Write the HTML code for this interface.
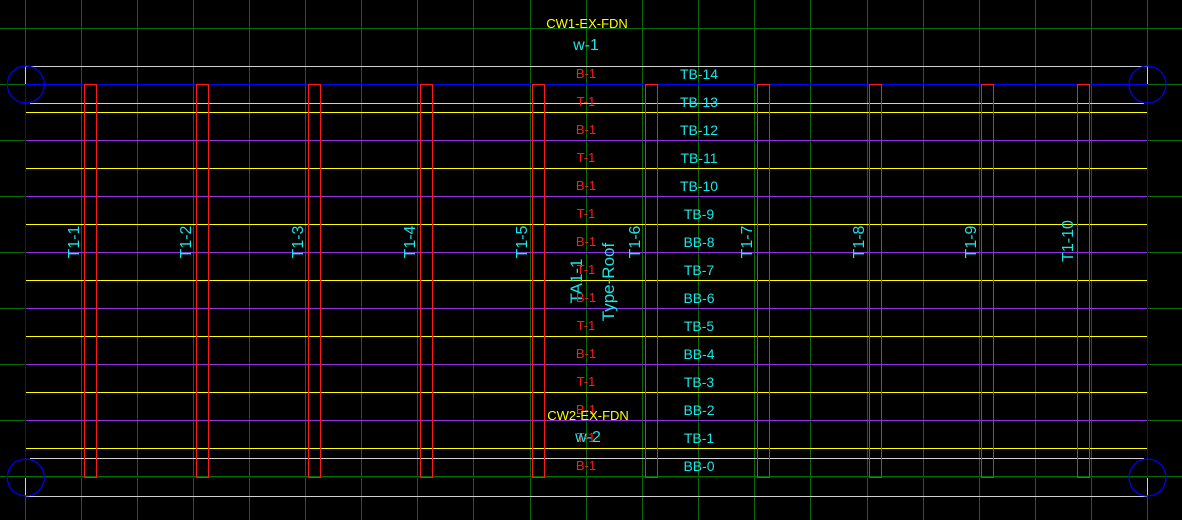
<!DOCTYPE html>
<html><head><meta charset="utf-8"><style>
html,body{margin:0;padding:0;background:#000;}
svg{display:block;}
text{font-family:"Liberation Sans",sans-serif;}
</style></head><body>
<svg width="1182" height="520" viewBox="0 0 1182 520" xmlns="http://www.w3.org/2000/svg">
<rect width="1182" height="520" fill="#000"/>
<g stroke="#0a6a0a" stroke-width="1" shape-rendering="crispEdges">
<line x1="25.5" y1="0" x2="25.5" y2="520"/><line x1="81.5" y1="0" x2="81.5" y2="520"/><line x1="137.5" y1="0" x2="137.5" y2="520"/><line x1="193.5" y1="0" x2="193.5" y2="520"/><line x1="249.5" y1="0" x2="249.5" y2="520"/><line x1="305.5" y1="0" x2="305.5" y2="520"/><line x1="361.5" y1="0" x2="361.5" y2="520"/><line x1="417.5" y1="0" x2="417.5" y2="520"/><line x1="473.5" y1="0" x2="473.5" y2="520"/><line x1="530.5" y1="0" x2="530.5" y2="520"/><line x1="586.5" y1="0" x2="586.5" y2="520"/><line x1="642.5" y1="0" x2="642.5" y2="520"/><line x1="698.5" y1="0" x2="698.5" y2="520"/><line x1="754.5" y1="0" x2="754.5" y2="520"/><line x1="810.5" y1="0" x2="810.5" y2="520"/><line x1="867.5" y1="0" x2="867.5" y2="520"/><line x1="923.5" y1="0" x2="923.5" y2="520"/><line x1="979.5" y1="0" x2="979.5" y2="520"/><line x1="1035.5" y1="0" x2="1035.5" y2="520"/><line x1="1091.5" y1="0" x2="1091.5" y2="520"/><line x1="1147.5" y1="0" x2="1147.5" y2="520"/>
<line x1="0" y1="28.5" x2="1182" y2="28.5"/><line x1="0" y1="84.5" x2="1182" y2="84.5"/><line x1="0" y1="140.5" x2="1182" y2="140.5"/><line x1="0" y1="196.5" x2="1182" y2="196.5"/><line x1="0" y1="252.5" x2="1182" y2="252.5"/><line x1="0" y1="308.5" x2="1182" y2="308.5"/><line x1="0" y1="364.5" x2="1182" y2="364.5"/><line x1="0" y1="420.5" x2="1182" y2="420.5"/><line x1="0" y1="476.5" x2="1182" y2="476.5"/>
</g>
<g stroke="#ffff00" stroke-width="1" shape-rendering="crispEdges">
<line x1="26" y1="112.5" x2="1147" y2="112.5"/><line x1="26" y1="168.5" x2="1147" y2="168.5"/><line x1="26" y1="224.5" x2="1147" y2="224.5"/><line x1="26" y1="280.5" x2="1147" y2="280.5"/><line x1="26" y1="336.5" x2="1147" y2="336.5"/><line x1="26" y1="392.5" x2="1147" y2="392.5"/><line x1="26" y1="448.5" x2="1147" y2="448.5"/>
</g>
<g stroke="#9030e0" stroke-width="1" shape-rendering="crispEdges">
<line x1="26" y1="140.5" x2="1147" y2="140.5"/><line x1="26" y1="196.5" x2="1147" y2="196.5"/><line x1="26" y1="252.5" x2="1147" y2="252.5"/><line x1="26" y1="308.5" x2="1147" y2="308.5"/><line x1="26" y1="364.5" x2="1147" y2="364.5"/><line x1="26" y1="420.5" x2="1147" y2="420.5"/>
</g>
<g stroke="#d0d0d0" stroke-width="1" shape-rendering="crispEdges">
<line x1="26" y1="66.5" x2="1147" y2="66.5"/><line x1="30" y1="103.5" x2="1144" y2="103.5"/>
<line x1="30" y1="458.5" x2="1144" y2="458.5"/><line x1="26" y1="496.5" x2="1147" y2="496.5"/>
<line x1="25.5" y1="66" x2="25.5" y2="84"/><line x1="1147.5" y1="66" x2="1147.5" y2="84"/>
<line x1="25.5" y1="477" x2="25.5" y2="496"/><line x1="1147.5" y1="477" x2="1147.5" y2="496"/>
</g>
<g stroke="#0000ff" stroke-width="1" fill="none" shape-rendering="crispEdges">
<line x1="25" y1="84.5" x2="1148" y2="84.5"/><line x1="25" y1="477.5" x2="1148" y2="477.5"/>
<line x1="25.5" y1="84" x2="25.5" y2="477"/><line x1="1147.5" y1="84" x2="1147.5" y2="477"/>
</g>
<g stroke="#0000ff" stroke-width="1.2" fill="none">
<circle cx="25.8" cy="84.5" r="18.5"/><circle cx="1147.5" cy="84.5" r="18.5"/>
<circle cx="25.8" cy="477.5" r="18.5"/><circle cx="1147.5" cy="477.5" r="18.5"/>
</g>
<g stroke="#ff1a1a" stroke-width="1" fill="none" shape-rendering="crispEdges">
<rect x="84.5" y="84.5" width="12" height="393"/><rect x="196.5" y="84.5" width="12" height="393"/><rect x="308.5" y="84.5" width="12" height="393"/><rect x="420.5" y="84.5" width="12" height="393"/><rect x="532.5" y="84.5" width="12" height="393"/><rect x="645.5" y="84.5" width="12" height="393"/><rect x="757.5" y="84.5" width="12" height="393"/><rect x="869.5" y="84.5" width="12" height="393"/><rect x="981.5" y="84.5" width="12" height="393"/><rect x="1077.5" y="84.5" width="12" height="393"/>
</g>
<g fill="#19e6e6" font-size="16" text-anchor="middle">
<text transform="translate(79,242) rotate(-90)">T1-1</text>
<text transform="translate(191,242) rotate(-90)">T1-2</text>
<text transform="translate(303,242) rotate(-90)">T1-3</text>
<text transform="translate(415,242) rotate(-90)">T1-4</text>
<text transform="translate(527,242) rotate(-90)">T1-5</text>
<text transform="translate(640,242) rotate(-90)">T1-6</text>
<text transform="translate(752,242) rotate(-90)">T1-7</text>
<text transform="translate(864,242) rotate(-90)">T1-8</text>
<text transform="translate(976,242) rotate(-90)">T1-9</text>
<text transform="translate(1073,241) rotate(-90)">T1-10</text>
<text font-size="17" transform="translate(582,281) rotate(-90)">TA1-1</text>
<text font-size="17" transform="translate(614,282) rotate(-90)">Type-Roof</text>
</g>
<g fill="#ff1a1a" font-size="13" text-anchor="middle">
<text x="586" y="78">B-1</text><text x="586" y="106">T-1</text><text x="586" y="134">B-1</text><text x="586" y="162">T-1</text><text x="586" y="190">B-1</text><text x="586" y="218">T-1</text><text x="586" y="246">B-1</text><text x="586" y="274">T-1</text><text x="586" y="302">B-1</text><text x="586" y="330">T-1</text><text x="586" y="358">B-1</text><text x="586" y="386">T-1</text><text x="586" y="414">B-1</text><text x="586" y="442">T-1</text><text x="586" y="470">B-1</text>
</g>
<g fill="#19e6e6" font-size="14" text-anchor="middle">
<text x="699" y="79">TB-14</text><text x="699" y="107">TB-13</text><text x="699" y="135">TB-12</text><text x="699" y="163">TB-11</text><text x="699" y="191">TB-10</text><text x="699" y="219">TB-9</text><text x="699" y="247">BB-8</text><text x="699" y="275">TB-7</text><text x="699" y="303">BB-6</text><text x="699" y="331">TB-5</text><text x="699" y="359">BB-4</text><text x="699" y="387">TB-3</text><text x="699" y="415">BB-2</text><text x="699" y="443">TB-1</text><text x="699" y="471">BB-0</text>
<text x="586" y="50" font-size="16">w-1</text>
<text x="588" y="442" font-size="16">w-2</text>
</g>
<g fill="#ffff00" font-size="13" text-anchor="middle">
<text x="587" y="28">CW1-EX-FDN</text>
<text x="588" y="420">CW2-EX-FDN</text>
</g>
</svg>
</body></html>
